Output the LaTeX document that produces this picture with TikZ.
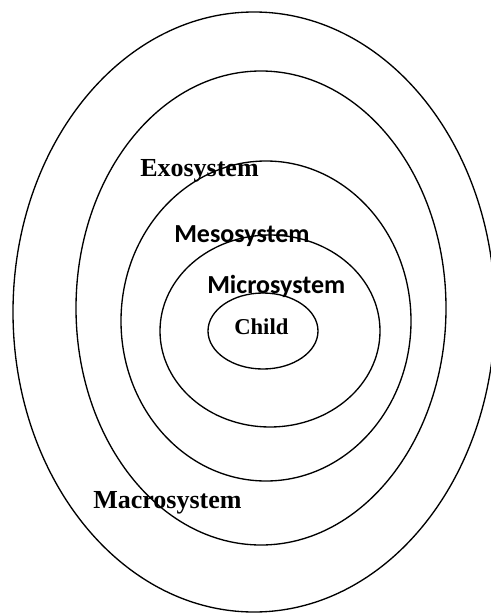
\documentclass[tikz,border=0pt]{standalone}
\usepackage{fontspec}
\setmainfont{Liberation Serif}
\newfontfamily\calib{Carlito}
\usetikzlibrary{positioning}
\tikzset{
  ring/.style={draw=black, line width=1pt},
  seriflabel/.style={anchor=base west, inner sep=0pt, font=\fontsize{19.5}{22}\selectfont\bfseries},
  sanslabel/.style={anchor=base west, inner sep=0pt, font=\fontsize{19.5}{22}\selectfont\calib\bfseries},
  childlabel/.style={anchor=base west, inner sep=0pt, font=\fontsize{17}{20}\selectfont\bfseries}
}
\begin{document}
\begin{tikzpicture}[x=0.75pt, y=-0.75pt]
\useasboundingbox (0,0) rectangle (491,614);
% nested systems, outer to inner
\draw[ring] (254,312) ellipse [x radius=241, y radius=300];
\draw[ring] (261,308) ellipse [x radius=185, y radius=237];
\draw[ring] (266,321) ellipse [x radius=145, y radius=160];
\draw[ring] (270,331) ellipse [x radius=110, y radius=96];
\draw[ring] (263,331) ellipse [x radius=55, y radius=38];
% labels
\node[seriflabel] (exo) at (140,176) {Exosystem};
\node[sanslabel] (meso) at (174,242) {Mesosystem};
\node[sanslabel] (micro) at (207,293) {Microsystem};
\node[childlabel] (child) at (234,334) {Child};
\node[seriflabel] (macro) at (93,508) {Macrosystem};
\end{tikzpicture}
\end{document}
